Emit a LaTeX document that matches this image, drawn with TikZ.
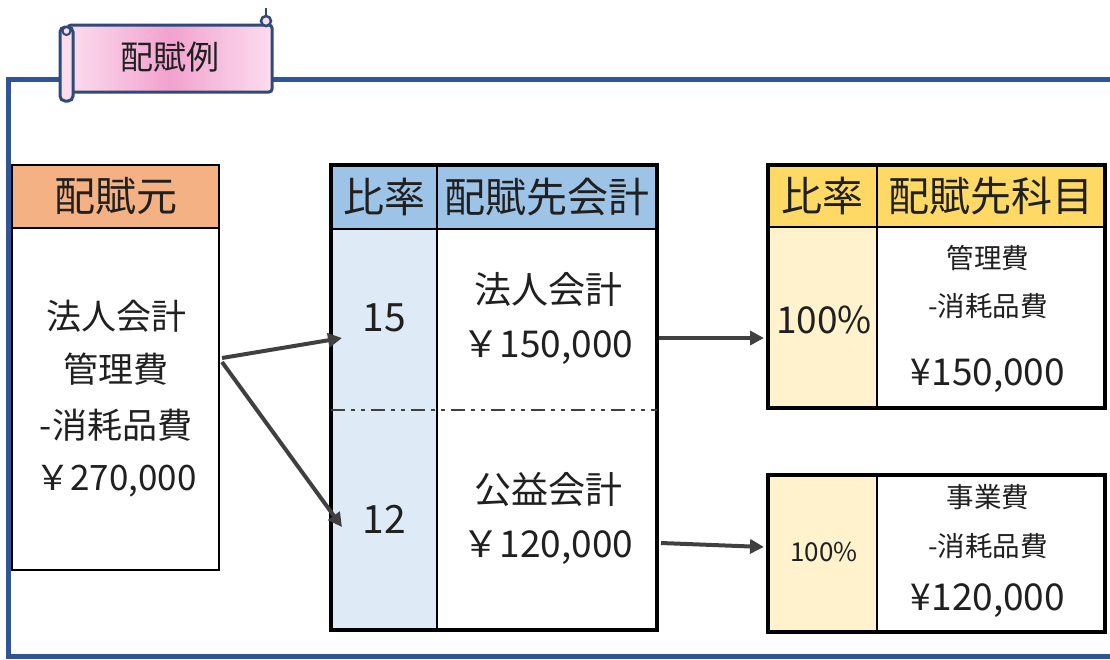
\documentclass[tikz,border=0pt]{standalone}
\usepackage{fontspec}
\setmainfont{Noto Sans CJK JP}
\usetikzlibrary{arrows.meta,calc}
\definecolor{frameblue}{HTML}{2F5597}
\definecolor{scrollline}{HTML}{2E4A78}
\definecolor{pinkmid}{HTML}{F2A2CF}
\definecolor{pinkedge}{HTML}{FBDDEE}
\definecolor{orangehead}{HTML}{F4B183}
\definecolor{bluehead}{HTML}{9DC3E6}
\definecolor{bluecell}{HTML}{DEEBF7}
\definecolor{yellowhead}{HTML}{FFD966}
\definecolor{yellowcell}{HTML}{FFF2CC}
\definecolor{arrowgray}{HTML}{404040}
\definecolor{txtgray}{HTML}{202020}
\tikzset{
  cell/.style={draw=black, line width=2.5pt, anchor=north west, inner sep=0pt, outer sep=0pt},
  outerbox/.style={draw=black, line width=3.5pt, anchor=north west, inner sep=0pt, outer sep=0pt},
  txt/.style={text=txtgray, inner sep=0pt},
  hdr/.style={txt, font=\fontsize{41}{46}\selectfont},
  big/.style={txt, font=\fontsize{36}{40}\selectfont},
  mid/.style={txt, font=\fontsize{27.5}{32}\selectfont},
  conn/.style={draw=arrowgray, line width=4pt, -{Triangle[length=14pt,width=14pt]}},
  dashdot/.style={draw=arrowgray, line width=1.8pt, dash pattern=on 14pt off 6pt on 4pt off 6pt on 4pt off 6pt},
}
\begin{document}
\begin{tikzpicture}[x=1pt,y=-1pt]
\useasboundingbox (0,0) rectangle (1110,659);
% outer frame
\draw[frameblue, line width=5pt] (1120,79) -- (8,79) -- (8,656.5) -- (1120,656.5);

% scroll banner
\shade[left color=pinkedge, right color=pinkedge, middle color=pinkmid, draw=scrollline, line width=3pt, rounded corners=3pt]
  (68,25) rectangle (272,92);
\draw[scrollline, line width=3pt, fill=pinkedge, rounded corners=5pt] (60,27) rectangle (73,101);
\draw[scrollline, line width=2pt, fill=pinkedge] (66.5,31) circle (4pt);
\draw[scrollline, line width=2.5pt] (266,8) -- (266,20);
\draw[scrollline, line width=2.5pt, fill=pinkedge] (266,21) circle (5pt);
\node[txt, font=\fontsize{33}{38}\selectfont] (title) at (170,57) {配賦例};

% source box
\node[cell, fill=orangehead, minimum width=207pt, minimum height=63pt] (srchead) at (12,165) {};
\node[cell, fill=white, minimum width=207pt, minimum height=342pt] (srcbody) at (12,228) {};
\node[hdr] (srct) at (srchead.center) {配賦元};
\node[big, font=\fontsize{35}{40}\selectfont] (s1) at (116,316) {法人会計};
\node[big, font=\fontsize{35}{40}\selectfont] (s2) at (116,369) {管理費};
\node[big, font=\fontsize{35}{40}\selectfont] (s3) at (116,425) {-消耗品費};
\node[big, font=\fontsize{35}{40}\selectfont] (s4) at (116,481) {￥270,000};

% middle table
\node[cell, fill=bluehead, minimum width=106pt, minimum height=64pt] (mh1) at (331,165) {};
\node[cell, fill=bluehead, minimum width=220pt, minimum height=64pt] (mh2) at (437,165) {};
\node[cell, fill=bluecell, minimum width=106pt, minimum height=401pt] (mc1) at (331,229) {};
\node[cell, fill=white, minimum width=220pt, minimum height=401pt] (mc2) at (437,229) {};
\node[outerbox, minimum width=326pt, minimum height=465pt] (mout) at (331,165) {};
\draw[dashdot] (mc1.west |- 0,410) -- (mc2.east |- 0,410);
\node[hdr] at (mh1.center) {比率};
\node[hdr] at (mh2.center) {配賦先会計};
\node[big, font=\fontsize{39}{44}\selectfont] (r1) at (384,318) {15};
\node[big, font=\fontsize{39}{44}\selectfont] (r2) at (384,519) {12};
\node[big, font=\fontsize{37}{42}\selectfont] (a1) at (548,289) {法人会計};
\node[big, font=\fontsize{37}{42}\selectfont] (a2) at (548,348) {￥150,000};
\node[big, font=\fontsize{37}{42}\selectfont] (b1) at (548,489) {公益会計};
\node[big, font=\fontsize{37}{42}\selectfont] (b2) at (548,548) {￥120,000};

% right top table
\node[cell, fill=yellowhead, minimum width=109pt, minimum height=62pt] (th1) at (768,165) {};
\node[cell, fill=yellowhead, minimum width=228pt, minimum height=62pt] (th2) at (877,165) {};
\node[cell, fill=yellowcell, minimum width=109pt, minimum height=181pt] (tc1) at (768,227) {};
\node[cell, fill=white, minimum width=228pt, minimum height=181pt] (tc2) at (877,227) {};
\node[outerbox, minimum width=337pt, minimum height=243pt] (tout) at (768,165) {};
\node[hdr] at (th1.center) {比率};
\node[hdr] at (th2.center) {配賦先科目};
\node[big, font=\fontsize{37}{42}\selectfont] (tp) at (824,320) {100\%};
\node[mid] at (988,258) {管理費};
\node[mid] at (988,306) {-消耗品費};
\node[big, font=\fontsize{37}{42}\selectfont] at (988,376) {¥150,000};

% right bottom table
\node[cell, fill=yellowcell, minimum width=109pt, minimum height=157pt] (bc1) at (768,475) {};
\node[cell, fill=white, minimum width=228pt, minimum height=157pt] (bc2) at (877,475) {};
\node[outerbox, minimum width=337pt, minimum height=157pt] (bout) at (768,475) {};
\node[txt, font=\fontsize{26}{30}\selectfont] (bp) at (824,552) {100\%};
\node[mid] at (988,497) {事業費};
\node[mid] at (988,546) {-消耗品費};
\node[big, font=\fontsize{37}{42}\selectfont] at (988,601) {¥120,000};

% connectors
\coordinate (o1) at (222,358);
\coordinate (o2) at (222,362);
\coordinate (e1) at (342,338);
\coordinate (e2) at (342,527);
\draw[conn] (o1) -- (e1);
\draw[conn] (o2) -- (e2);
\coordinate (p1) at (659,338);
\coordinate (q1) at (764,338);
\coordinate (p2) at (661,543);
\coordinate (q2) at (764,547);
\draw[conn] (p1) -- (q1);
\draw[conn] (p2) -- (q2);
\end{tikzpicture}
\end{document}
